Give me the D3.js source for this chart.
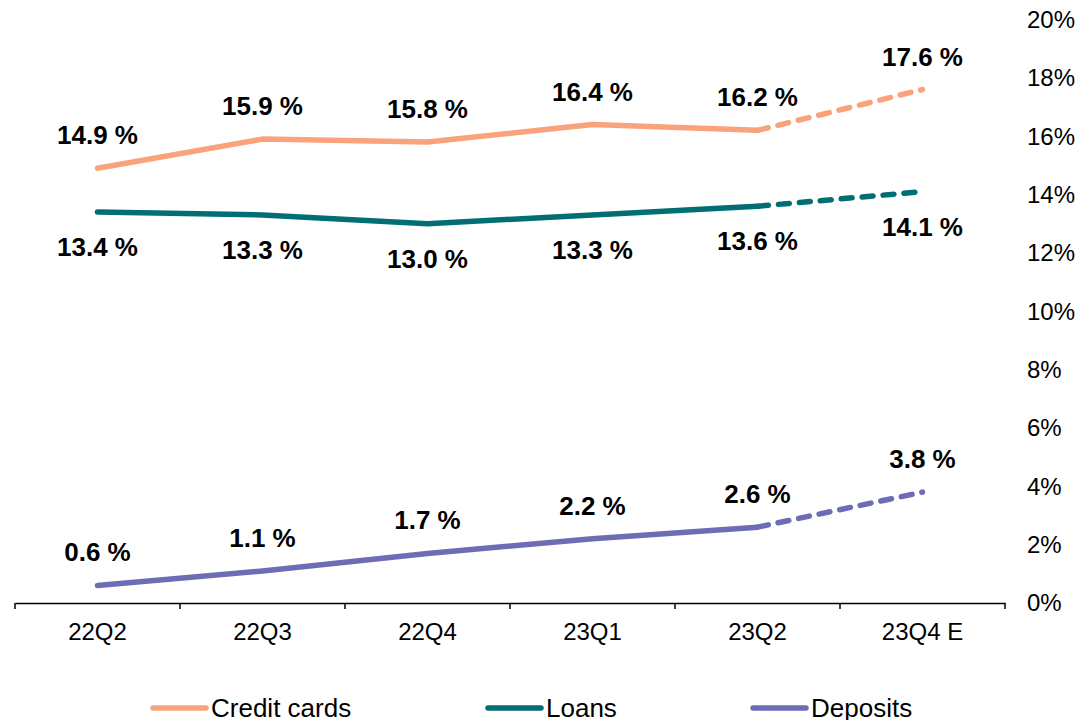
<!DOCTYPE html>
<html>
<head>
<meta charset="utf-8">
<script src="https://cdn.jsdelivr.net/npm/d3@7"></script>
<style>
  html, body { margin: 0; padding: 0; background: #fff; }
  svg { display: block; font-family: "Liberation Sans", Arial, sans-serif; }
</style>
</head>
<body>
<svg id="chart" width="1079" height="720"></svg>
<script>
const categories = ["22Q2", "22Q3", "22Q4", "23Q1", "23Q2", "23Q4 E"];
const creditCards = [14.9, 15.9, 15.8, 16.4, 16.2, 17.6];
const loans = [13.4, 13.3, 13.0, 13.3, 13.6, 14.1];
const deposits = [0.6, 1.1, 1.7, 2.2, 2.6, 3.8];
const yTicks = [0, 2, 4, 6, 8, 10, 12, 14, 16, 18, 20];
const seriesNames = ["Credit cards", "Loans", "Deposits"];

const series = [
  { name: seriesNames[0], values: creditCards, color: "#F9A27C", labelPos: "above" },
  { name: seriesNames[1], values: loans, color: "#006E73", labelPos: "below" },
  { name: seriesNames[2], values: deposits, color: "#6E6CB4", labelPos: "above" }
];

const svg = d3.select("#chart");
const x = d3.scaleBand().domain(categories).range([15, 1005]);
const y = d3.scaleLinear().domain([0, 20]).range([603, 19.5]);

// X axis
const xAxis = svg.append("g").attr("transform", "translate(0,603)")
  .call(d3.axisBottom(x).tickSize(0).tickPadding(0).tickFormat(""));
xAxis.select(".domain").attr("stroke", "#000").attr("stroke-width", 1.5);
const boundaries = categories.map(c => x(c)).concat([x.range()[1]]);
svg.append("g").selectAll("line").data(boundaries).join("line")
  .attr("x1", d => d).attr("x2", d => d)
  .attr("y1", 603).attr("y2", 609)
  .attr("stroke", "#000").attr("stroke-width", 1.5);
svg.append("g").selectAll("text").data(categories).join("text")
  .attr("x", d => x(d) + x.bandwidth() / 2)
  .attr("y", 640)
  .attr("text-anchor", "middle")
  .attr("font-size", 24)
  .attr("fill", "#000")
  .text(d => d);

// Y axis labels (right side)
svg.append("g").selectAll("text").data(yTicks).join("text")
  .attr("x", 1027)
  .attr("y", d => y(d))
  .attr("dy", "0.35em")
  .attr("font-size", 24)
  .attr("fill", "#000")
  .text(d => d + "%");

// Lines
const line = d3.line()
  .x((d, i) => x(categories[i]) + x.bandwidth() / 2)
  .y(d => y(d));

const n = categories.length;
series.forEach(s => {
  const solidPts = s.values.slice(0, n - 1);
  svg.append("path")
    .datum(solidPts)
    .attr("d", line)
    .attr("fill", "none")
    .attr("stroke", s.color)
    .attr("stroke-width", 5.5)
    .attr("stroke-linecap", "round")
    .attr("stroke-linejoin", "round");
  const dashPts = s.values.slice(n - 2);
  const dashLine = d3.line()
    .x((d, i) => x(categories[n - 2 + i]) + x.bandwidth() / 2)
    .y(d => y(d));
  svg.append("path")
    .datum(dashPts)
    .attr("d", dashLine)
    .attr("fill", "none")
    .attr("stroke", s.color)
    .attr("stroke-width", 5.5)
    .attr("stroke-linecap", "round")
    .attr("stroke-dasharray", "11,10");

  svg.append("g").selectAll("text").data(s.values).join("text")
    .attr("x", (d, i) => x(categories[i]) + x.bandwidth() / 2)
    .attr("y", d => s.labelPos === "above" ? y(d) - 24 : y(d) + 44)
    .attr("text-anchor", "middle")
    .attr("font-size", 26)
    .attr("font-weight", "bold")
    .attr("fill", "#000")
    .text(d => d.toFixed(1) + " %");
});

// Legend
const legendX = [153, 488, 753];
series.forEach((s, i) => {
  const g = svg.append("g");
  g.append("line")
    .attr("x1", legendX[i]).attr("x2", legendX[i] + 53)
    .attr("y1", 708).attr("y2", 708)
    .attr("stroke", s.color).attr("stroke-width", 5.5)
    .attr("stroke-linecap", "round");
  g.append("text")
    .attr("x", legendX[i] + 58)
    .attr("y", 717)
    .attr("font-size", 26)
    .attr("fill", "#000")
    .text(s.name);
});
</script>
</body>
</html>
